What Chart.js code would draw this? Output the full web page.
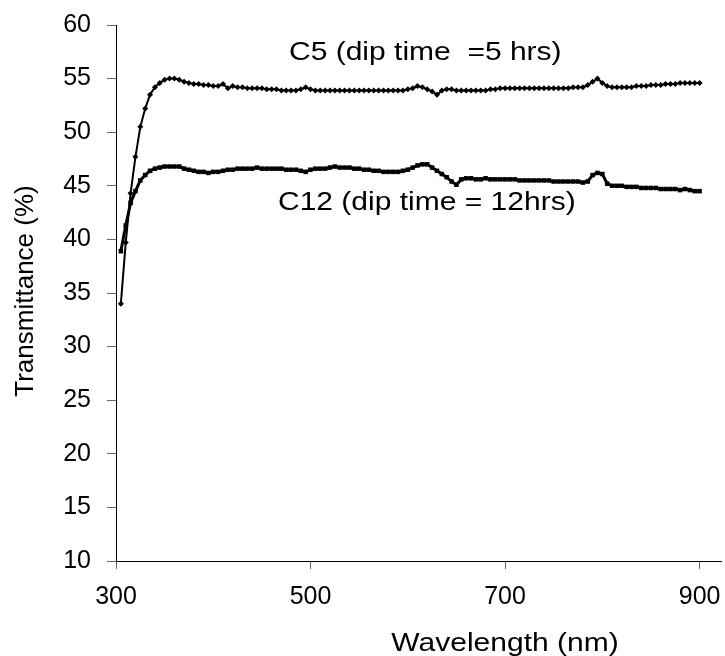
<!DOCTYPE html>
<html>
<head>
<meta charset="utf-8">
<script src="https://cdn.jsdelivr.net/npm/chart.js@4.4.1/dist/chart.umd.min.js"></script>
<style>
  html, body { margin: 0; padding: 0; background: #fff; }
  #wrap { width: 725px; height: 656px; }
</style>
</head>
<body>
<div id="wrap"><canvas id="chart" width="725" height="656"></canvas></div>
<script>
const wavelengths = [
    305, 310, 315, 320, 325, 330, 335, 340, 345, 350,
    355, 360, 365, 370, 375, 380, 385, 390, 395, 400,
    405, 410, 415, 420, 425, 430, 435, 440, 445, 450,
    455, 460, 465, 470, 475, 480, 485, 490, 495, 500,
    505, 510, 515, 520, 525, 530, 535, 540, 545, 550,
    555, 560, 565, 570, 575, 580, 585, 590, 595, 600,
    605, 610, 615, 620, 625, 630, 635, 640, 645, 650,
    655, 660, 665, 670, 675, 680, 685, 690, 695, 700,
    705, 710, 715, 720, 725, 730, 735, 740, 745, 750,
    755, 760, 765, 770, 775, 780, 785, 790, 795, 800,
    805, 810, 815, 820, 825, 830, 835, 840, 845, 850,
    855, 860, 865, 870, 875, 880, 885, 890, 895, 900
];

// C5 (dip time = 5 hrs)
const c5 = [
    34.0, 39.7, 44.3, 47.7, 50.5, 52.2, 53.5, 54.2, 54.6, 54.9,
    55.0, 55.0, 54.9, 54.7, 54.6, 54.5, 54.5, 54.4, 54.4, 54.3,
    54.3, 54.5, 54.1, 54.3, 54.2, 54.2, 54.1, 54.1, 54.1, 54.1,
    54.0, 54.0, 54.0, 53.9, 53.9, 53.9, 53.9, 54.0, 54.2, 54.0,
    53.9, 53.9, 53.9, 53.9, 53.9, 53.9, 53.9, 53.9, 53.9, 53.9,
    53.9, 53.9, 53.9, 53.9, 53.9, 53.9, 53.9, 53.9, 53.9, 54.0,
    54.1, 54.3, 54.2, 54.0, 53.8, 53.5, 53.9, 54.0, 54.0, 53.9,
    53.9, 53.9, 53.9, 53.9, 53.9, 53.9, 54.0, 54.0, 54.1, 54.1,
    54.1, 54.1, 54.1, 54.1, 54.1, 54.1, 54.1, 54.1, 54.1, 54.1,
    54.1, 54.1, 54.1, 54.2, 54.2, 54.2, 54.4, 54.7, 55.0, 54.6,
    54.3, 54.2, 54.2, 54.2, 54.2, 54.2, 54.3, 54.3, 54.3, 54.4,
    54.4, 54.4, 54.5, 54.5, 54.5, 54.6, 54.6, 54.6, 54.6, 54.6
];

// C12 (dip time = 12hrs)
const c12 = [
    38.9, 41.3, 43.4, 44.5, 45.5, 46.0, 46.4, 46.6, 46.7, 46.8,
    46.8, 46.8, 46.8, 46.6, 46.5, 46.4, 46.3, 46.3, 46.2, 46.3,
    46.3, 46.4, 46.5, 46.5, 46.6, 46.6, 46.6, 46.6, 46.7, 46.6,
    46.6, 46.6, 46.6, 46.6, 46.5, 46.5, 46.5, 46.4, 46.3, 46.5,
    46.6, 46.6, 46.6, 46.7, 46.8, 46.7, 46.7, 46.7, 46.6, 46.6,
    46.5, 46.5, 46.4, 46.4, 46.3, 46.3, 46.3, 46.3, 46.4, 46.5,
    46.7, 46.9, 47.0, 47.0, 46.7, 46.4, 46.1, 45.8, 45.4, 45.1,
    45.6, 45.7, 45.7, 45.6, 45.6, 45.7, 45.6, 45.6, 45.6, 45.6,
    45.6, 45.6, 45.5, 45.5, 45.5, 45.5, 45.5, 45.5, 45.5, 45.4,
    45.4, 45.4, 45.4, 45.4, 45.4, 45.3, 45.4, 46.0, 46.2, 46.1,
    45.2, 45.0, 45.0, 45.0, 44.9, 44.9, 44.9, 44.8, 44.8, 44.8,
    44.8, 44.7, 44.7, 44.7, 44.7, 44.6, 44.7, 44.6, 44.5, 44.5
];

const xTicks = [300, 500, 700, 900];
const xTitle = "Wavelength (nm)";
const yTitle = "Transmittance (%)";
const c5Label = "C5 (dip time  =5 hrs)";
const c12Label = "C12 (dip time = 12hrs)";

const FONT = "'Liberation Sans', Arial, sans-serif";

function toPoints(values) {
    return wavelengths.map((w, i) => ({ x: w, y: values[i] }));
}

// x tick labels, axis titles and curve labels, drawn onto the canvas
const textPlugin = {
    id: "texts",
    afterDraw(chart) {
        const ctx = chart.ctx;
        const xScale = chart.scales.x;
        ctx.save();
        ctx.fillStyle = "#000";
        ctx.font = "25px " + FONT;

        ctx.textAlign = "center";
        ctx.textBaseline = "top";
        xTicks.forEach(v => {
            ctx.fillText(String(v), xScale.getPixelForValue(v), xScale.top + 24);
        });

        ctx.textBaseline = "alphabetic";
        function stretched(text, x, y, align) {
            ctx.save();
            ctx.translate(x, y);
            ctx.scale(1.2, 1);
            ctx.textAlign = align;
            ctx.fillText(text, 0, 0);
            ctx.restore();
        }

        stretched(c5Label, 289, 60, "left");
        stretched(c12Label, 278, 210, "left");
        stretched(xTitle, 505, 651, "center");

        ctx.translate(33, 291);
        ctx.rotate(-Math.PI / 2);
        ctx.font = "26px " + FONT;
        ctx.textAlign = "center";
        ctx.fillText(yTitle, 0, 0);
        ctx.restore();
    }
};

new Chart(document.getElementById("chart"), {
    type: "line",
    data: {
        datasets: [
            {
                label: c5Label,
                data: toPoints(c5),
                borderColor: "#000",
                backgroundColor: "#000",
                borderWidth: 2,
                pointStyle: "rectRot",
                pointRadius: 3,
                pointBorderWidth: 0,
                tension: 0
            },
            {
                label: c12Label,
                data: toPoints(c12),
                borderColor: "#000",
                backgroundColor: "#000",
                borderWidth: 3,
                pointStyle: "rect",
                pointRadius: 3.2,
                pointBorderWidth: 0,
                tension: 0
            }
        ]
    },
    options: {
        responsive: false,
        animation: false,
        events: [],
        layout: { padding: { left: 0, right: 0, top: 25, bottom: 0 } },
        plugins: {
            legend: { display: false },
            tooltip: { enabled: false }
        },
        scales: {
            x: {
                type: "linear",
                min: 300,
                max: 922,
                afterBuildTicks: (scale) => {
                    scale.ticks = xTicks.map(v => ({ value: v }));
                },
                afterFit: (scale) => {
                    scale.height = 95;
                    scale.paddingLeft = 0;
                    scale.paddingRight = 0;
                },
                border: { display: true, color: "#000", width: 1 },
                grid: { drawOnChartArea: false, drawTicks: true, tickLength: 8, color: "#666" },
                ticks: { display: false }
            },
            y: {
                min: 10,
                max: 60,
                afterFit: (scale) => {
                    scale.width = 116;
                    scale.paddingTop = 0;
                    scale.paddingBottom = 0;
                },
                border: { display: true, color: "#000", width: 1 },
                grid: { drawOnChartArea: false, drawTicks: true, tickLength: 9, color: "#666" },
                ticks: { stepSize: 5, color: "#000", font: { family: FONT, size: 25 }, padding: 16 }
            }
        }
    },
    plugins: [textPlugin]
});
</script>
</body>
</html>
